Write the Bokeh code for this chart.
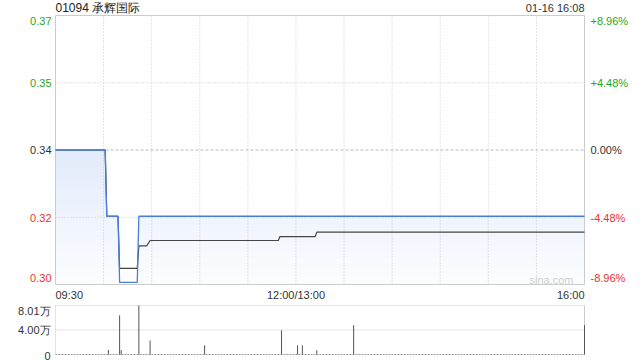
import numpy as np
from bokeh.plotting import figure
from bokeh.models import Range1d, Label
from bokeh.embed import file_html
from bokeh.resources import INLINE

# ---------------- data ----------------
title_text = "01094 承辉国际"
date_text = "01-16 16:08"
prev_close = 0.34
pct_ticks = [8.96, 4.48, 0.0, -4.48, -8.96]
price_tick_labels = ["0.37", "0.35", "0.34", "0.32", "0.30"]
pct_tick_labels = ["+8.96%", "+4.48%", "0.00%", "-4.48%", "-8.96%"]
time_tick_pos = [0, 150, 330]            # trading minutes since 09:30
time_tick_labels = ["09:30", "12:00/13:00", "16:00"]
time_grid = [30, 60, 90, 120, 150, 180, 210, 240, 270, 300]

# price line (minute index, price)
price_t = [0, 31, 32, 39, 40, 51, 52, 330]
price_v = [0.34, 0.34, 0.325, 0.325, 0.31, 0.31, 0.325, 0.325]

# average price line
avg_t = [0, 31, 32, 39, 40, 51, 52, 57, 59, 139, 140, 162, 163, 330]
avg_v = [0.34, 0.34, 0.325, 0.325, 0.3132, 0.3132, 0.3183, 0.3183,
         0.3195, 0.3195, 0.3204, 0.3204, 0.3214, 0.3214]

# volume (unit: 万)
vol_t = [33, 40, 41, 52, 59, 93, 141, 151, 154, 163, 186, 330]
vol_v = [0.75, 6.4, 0.7, 8.01, 2.3, 1.5, 3.95, 1.5, 1.5, 0.7, 4.8, 4.8]
vol_ticks = [8.01, 4.0, 0.0]
vol_tick_labels = ["8.01万", "4.00万", "0"]

# ---------------- layout (pixels) ----------------
W, H = 640, 360
PX_L, PX_R = 55, 584          # x of 09:30 and 16:00
PR_T, PR_B = 15, 284          # price panel top / bottom
VO_T, VO_B = 305, 354         # volume panel top / bottom

FONT = "Liberation Sans"
GREEN = "#1fa81f"
RED = "#ee3030"
DARK = "#333333"
BLUE = "#4a7fd5"
GRID = "#c8c8c8"

ylo = prev_close * (1 - pct_ticks[0] / 100)
yhi = prev_close * (1 + pct_ticks[0] / 100)

xs = 330 / (PX_R - PX_L)
x_range = Range1d(-PX_L * xs, 330 + (W - PX_R) * xs)
ps = (yhi - ylo) / (PR_B - PR_T)
y_range = Range1d(ylo - (H - PR_B) * ps, yhi + PR_T * ps)
vmax = vol_ticks[0]
vs = vmax / (VO_B - VO_T)
vol_range = Range1d(-(H - VO_B) * vs, vmax + VO_T * vs)

p = figure(width=W, height=H, x_range=x_range, y_range=y_range,
           x_axis_type=None, y_axis_type=None, toolbar_location=None,
           output_backend="svg", min_border=0)
p.extra_y_ranges = {"vol": vol_range}
p.outline_line_color = None
p.background_fill_color = "white"
p.border_fill_color = "white"
p.xgrid.visible = False
p.ygrid.visible = False

# gradient fill under price line (bands)
pt = np.array(price_t, dtype=float)
pv = np.array(price_v, dtype=float)
nb = 40
edges = np.linspace(ylo, prev_close, nb + 1)
c_top = np.array([226, 235, 250])
c_bot = np.array([252, 253, 255])
for i in range(nb):
    lo, hi = edges[i], edges[i + 1]
    f = (i + 0.5) / nb
    c = c_bot + (c_top - c_bot) * f
    col = "#%02x%02x%02x" % tuple(int(round(x)) for x in c)
    top = np.clip(pv, lo, hi + (hi - lo) * 0.3)
    p.varea(x=pt, y1=lo, y2=top, fill_color=col, fill_alpha=1.0)

# price grid
p.segment(x0=time_grid, y0=[ylo] * len(time_grid), x1=time_grid, y1=[yhi] * len(time_grid),
          line_color=GRID, line_dash="1 2", line_width=1)
mid_levels = [prev_close * (1 + pc / 100) for pc in (4.48, -4.48)]
p.segment(x0=[0, 0], y0=mid_levels, x1=[330, 330], y1=mid_levels,
          line_color=GRID, line_dash="1 2", line_width=1)
p.segment(x0=[0], y0=[prev_close], x1=[330], y1=[prev_close],
          line_color="#bbbbbb", line_dash="3 2", line_width=1)
# price panel border
p.multi_line(xs=[[0, 330, 330, 0, 0]], ys=[[ylo, ylo, yhi, yhi, ylo]],
             line_color="#cccccc", line_width=1)

p.line(avg_t, avg_v, line_color="#444444", line_width=1.2)
p.line(price_t, price_v, line_color=BLUE, line_width=1.3)

# axis labels
lab_colors = [GREEN, GREEN, DARK, RED, RED]
lab_offsets = [-5, 0, 0, -1, 7]
for pc, tl, pl, c, off in zip(pct_ticks, price_tick_labels, pct_tick_labels, lab_colors, lab_offsets):
    loc = prev_close * (1 + pc / 100)
    p.add_layout(Label(x=0, y=loc, x_offset=-4, y_offset=off, text=tl, text_align="right",
                       text_baseline="middle", text_color=c, text_font_size="11px",
                       text_font=FONT))
    p.add_layout(Label(x=330, y=loc, x_offset=6, y_offset=off, text=pl, text_align="left",
                       text_baseline="middle", text_color=c, text_font_size="11px",
                       text_font=FONT))

aligns = ["left", "center", "right"]
for pos, tl, al in zip(time_tick_pos, time_tick_labels, aligns):
    p.add_layout(Label(x=pos, y=ylo, y_offset=-10, text=tl, text_align=al,
                       text_baseline="middle", text_color=DARK, text_font_size="11px",
                       text_font=FONT))

p.add_layout(Label(x=0, y=yhi, y_offset=8, text=title_text, text_align="left",
                   text_baseline="middle", text_color="#222222", text_font_size="12px",
                   text_font=FONT))
p.add_layout(Label(x=330, y=yhi, y_offset=8, text=date_text, text_align="right",
                   text_baseline="middle", text_color=DARK, text_font_size="11px",
                   text_font=FONT))
p.add_layout(Label(x=330, y=ylo, x_offset=-11, y_offset=5, text="sina.com", text_align="right",
                   text_baseline="middle", text_color="#cfcfcf", text_font_size="11px",
                   text_font=FONT))

# ---------------- volume panel ----------------
p.segment(x0=[0, 0], y0=[vmax, vol_ticks[1]], x1=[330, 330], y1=[vmax, vol_ticks[1]],
          line_color=GRID, line_dash="1 1", y_range_name="vol")
p.segment(x0=[0], y0=[0], x1=[330], y1=[0], line_color="#999999", line_dash="2 1",
          y_range_name="vol")
p.segment(x0=[0], y0=[0], x1=[0], y1=[vmax], line_color=GRID, line_dash="1 1",
          y_range_name="vol")
p.segment(x0=[330], y0=[0], x1=[330], y1=[vmax], line_color="#cccccc", y_range_name="vol")

p.segment(x0=vol_t, y0=[0] * len(vol_t), x1=vol_t, y1=vol_v, line_color="#555555",
          line_width=1, y_range_name="vol")

vol_offsets = [-5, 0, -1]
for v, tl, off in zip(vol_ticks, vol_tick_labels, vol_offsets):
    p.add_layout(Label(x=0, y=v, x_offset=-5, y_offset=off, text=tl, text_align="right",
                       text_baseline="middle", text_color=DARK, text_font_size="11px",
                       text_font=FONT, y_range_name="vol"))

open("out.html", "w").write(file_html(p, INLINE))
